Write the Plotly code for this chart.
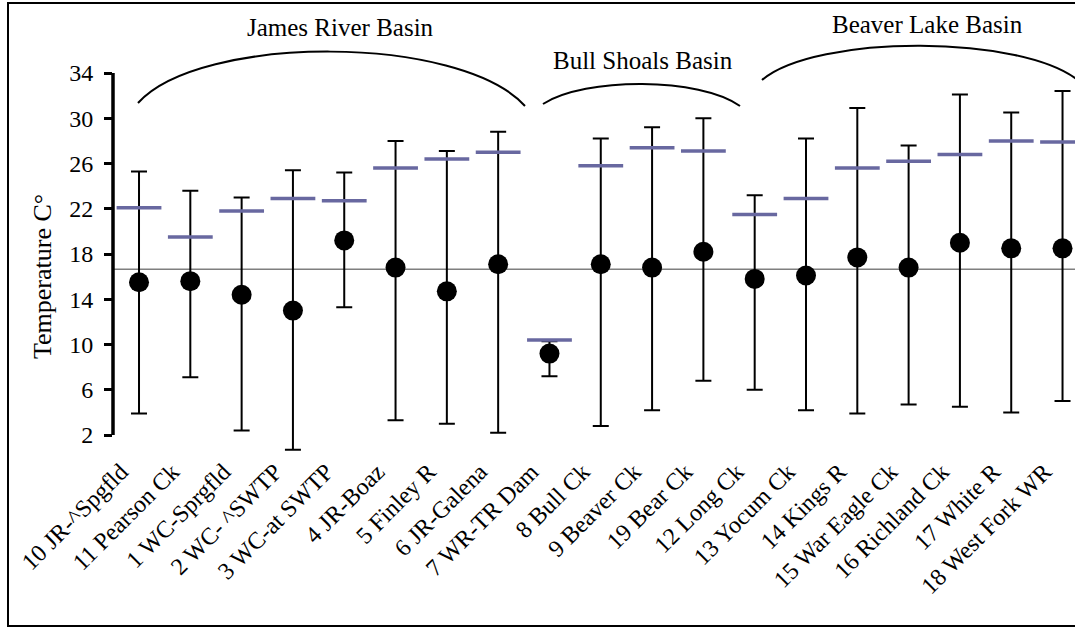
import plotly.graph_objects as go

sites = ["10 JR-^Spgfld", "11 Pearson Ck", "1 WC-Sprgfld", "2 WC- ^SWTP", "3 WC-at SWTP",
         "4 JR-Boaz", "5 Finley R", "6 JR-Galena", "7 WR-TR Dam", "8 Bull Ck",
         "9 Beaver Ck", "19 Bear Ck", "12 Long Ck", "13 Yocum Ck", "14 Kings R",
         "15 War Eagle Ck", "16 Richland Ck", "17 White R", "18 West Fork WR"]
mean_temp = [15.5, 15.6, 14.4, 13.0, 19.2, 16.8, 14.7, 17.1, 9.2, 17.1,
             16.8, 18.2, 15.8, 16.1, 17.7, 16.8, 19.0, 18.5, 18.5]
max_temp = [25.3, 23.6, 23.0, 25.4, 25.2, 28.0, 27.1, 28.8, 10.3, 28.2,
            29.2, 30.0, 23.2, 28.2, 30.9, 27.6, 32.1, 30.5, 32.4]
min_temp = [3.9, 7.1, 2.4, 0.7, 13.3, 3.3, 3.0, 2.2, 7.2, 2.8,
            4.2, 6.8, 6.0, 4.2, 3.9, 4.7, 4.5, 4.0, 5.0]
upper_mark = [22.1, 19.5, 21.8, 22.9, 22.7, 25.6, 26.4, 27.0, 10.4, 25.8,
              27.4, 27.1, 21.5, 22.9, 25.6, 26.2, 26.8, 28.0, 27.9]
overall_mean = 16.65
y_ticks = [2, 6, 10, 14, 18, 22, 26, 30, 34]
basins = ["James River Basin", "Bull Shoals Basin", "Beaver Lake Basin"]

W, H = 1075, 628
L, R, T, B = 113, 0, 73, 176
PW, PH = W - L - R, H - T - B
FONT = "Liberation Serif, Times New Roman, serif"


def px(x):
    return (x - L) / PW


def py(y):
    return (H - B - y) / PH


def path(pts):
    (x0, y0), (x1, y1), (x2, y2), (x3, y3) = pts
    return (f"M {px(x0)},{py(y0)} C {px(x1)},{py(y1)} "
            f"{px(x2)},{py(y2)} {px(x3)},{py(y3)}")


err_plus = [mx - m for mx, m in zip(max_temp, mean_temp)]
err_minus = [m - mn for mn, m in zip(min_temp, mean_temp)]

fig = go.Figure()
fig.add_trace(go.Scatter(
    x=sites, y=mean_temp, mode="markers",
    marker=dict(color="black", size=20),
    error_y=dict(type="data", symmetric=False, array=err_plus, arrayminus=err_minus,
                 color="black", thickness=2, width=8),
    cliponaxis=False, showlegend=False))
fig.add_trace(go.Scatter(
    x=sites, y=upper_mark, mode="markers",
    marker=dict(symbol="line-ew", size=32, line=dict(color="#6868A0", width=3.5)),
    cliponaxis=False, showlegend=False))

shapes = [
    dict(type="line", xref="paper", yref="y", x0=0, x1=1, y0=overall_mean, y1=overall_mean,
         line=dict(color="#7f7f7f", width=1.5), layer="below"),
    dict(type="line", xref="paper", yref="y", x0=0, x1=0, y0=y_ticks[0], y1=y_ticks[-1],
         line=dict(color="black", width=3.5)),
    dict(type="path", xref="paper", yref="paper",
         path=path([(138, 103), (200, 34), (460, 34), (525, 106)]),
         line=dict(color="black", width=2)),
    dict(type="path", xref="paper", yref="paper",
         path=path([(543, 104), (585, 77), (700, 77), (740, 106)]),
         line=dict(color="black", width=2)),
    dict(type="path", xref="paper", yref="paper",
         path=path([(762, 80), (815, 34), (1025, 34), (1080, 82)]),
         line=dict(color="black", width=2)),
    dict(type="rect", xref="paper", yref="paper", x0=px(8), x1=px(1100), y0=py(626), y1=py(3),
         line=dict(color="black", width=2)),
]


def note(text, x, y, size, angle=0):
    return dict(text=text, x=px(x), y=py(y), xref="paper", yref="paper", showarrow=False,
                xanchor="center", yanchor="middle", textangle=angle,
                font=dict(family=FONT, size=size, color="black"))


annotations = [
    note(basins[0], 340, 27, 25),
    note(basins[1], 643, 60, 25),
    note(basins[2], 927, 24, 25),
    note("Temperature C°", 42, 277, 26, -90),
]

fig.update_layout(
    width=W, height=H,
    margin=dict(l=L, r=R, t=T, b=B, pad=0),
    paper_bgcolor="white", plot_bgcolor="white",
    font=dict(family=FONT, size=24, color="black"),
    shapes=shapes, annotations=annotations,
    xaxis=dict(type="category", range=[-0.507, 18.243], showline=False, showgrid=False,
               zeroline=False, ticks="", tickangle=-45, ticklabelshift=-18,
               tickfont=dict(family=FONT, size=24, color="black")),
    yaxis=dict(range=[0.5, 34], tickvals=y_ticks, showline=False,
               ticks="outside", ticklen=8, tickwidth=2.5, tickcolor="black",
               showgrid=False, zeroline=False, ticklabelstandoff=6,
               tickfont=dict(family=FONT, size=24, color="black")),
)

fig.write_html("out.html", config={"displayModeBar": False},
               post_script="document.body.style.margin='0';")
